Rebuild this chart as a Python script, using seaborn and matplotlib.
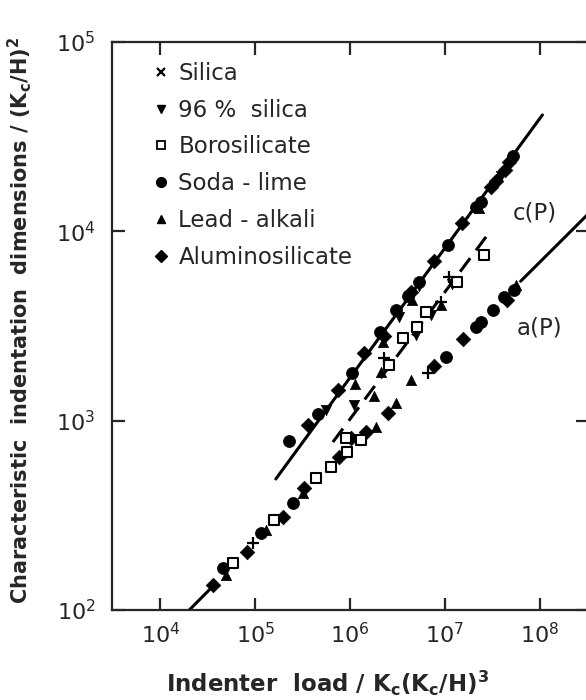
import seaborn as sns
import matplotlib.pyplot as plt
from matplotlib.lines import Line2D

sns.set_style("ticks")
plt.rcParams['font.family'] = 'DejaVu Sans'
plt.rcParams['mathtext.default'] = 'regular'

# Indentation data (load and size both normalised)
silica_x = [9.6e4, 2.3e6, 6.7e6, 9.2e6, 1.1e7]
silica_y = [226, 2140, 1790, 4240, 5740]

silica96_x = [5.6e5, 1.1e6, 3.3e6, 5.0e6, 5.3e6, 7.2e6, 1.2e7, 3.9e7]
silica96_y = [1140, 1210, 3530, 2840, 5150, 3610, 5270, 1.96e4]

boro_x = [5.9e4, 1.57e5, 4.4e5, 6.3e5, 9.1e5, 9.3e5, 1.31e6, 2.6e6, 3.6e6, 5.1e6, 6.4e6, 1.33e7, 2.6e7]
boro_y = [177, 299, 498, 569, 811, 684, 791, 1970, 2740, 3130, 3750, 5410, 7500]

soda_x = [2.26e5, 4.6e5, 1.05e6, 2.07e6, 3.07e6, 4.1e6, 5.4e6, 1.09e7, 2.15e7, 2.43e7, 5.3e7,
          4.6e4, 1.14e5, 2.5e5, 1.04e7, 2.15e7, 2.43e7, 3.26e7, 4.16e7, 5.4e7]
soda_y = [782, 1080, 1790, 2940, 3850, 4560, 5410, 8470, 1.35e4, 1.43e4, 2.5e4,
          167, 255, 367, 2170, 3130, 3320, 3850, 4500, 4900]

lead_x = [1.13e6, 2.23e6, 4.5e6, 2.32e7, 1.79e6, 2.13e6, 9.2e6,
          4.9e4, 1.29e5, 3.2e5, 1.88e6, 3.07e6, 4.4e6, 5.7e7]
lead_y = [1560, 2610, 4350, 1.33e4, 1350, 1810, 4080,
          153, 265, 415, 927, 1240, 1640, 5210]

alumino_x = [3.6e5, 7.5e5, 1.41e6, 2.29e6, 4.4e6, 7.7e6, 1.5e7, 3.1e7, 3.5e7, 4.3e7, 4.8e7,
             3.6e4, 8.1e4, 1.95e5, 3.3e5, 7.7e5, 1.03e6, 1.48e6, 2.5e6, 7.7e6, 1.57e7, 4.5e7]
alumino_y = [948, 1450, 2280, 2800, 4790, 6980, 1.11e4, 1.72e4, 1.85e4, 2.11e4, 2.33e4,
             135, 202, 310, 441, 643, 811, 871, 1100, 1945, 2700, 4350]

# fitted lines c(P) solid, c(P) dashed, a(P) (only drawn at both ends)
cP_x = [1.65e5, 1.07e8]
cP_y = [492, 4.12e4]
cP_dash_x = [6.6e5, 3.1e7]
cP_dash_y = [771, 1.02e4]
aP_low_x = [1.9e4, 3.5e4]
aP_low_y = [97, 132]
aP_high_x = [6.3e7, 4.0e8]
aP_high_y = [5450, 1.37e4]

fig = plt.figure(figsize=(5.86, 7.0), dpi=100)
ax = fig.add_axes([112 / 586, 90 / 700, 476 / 586, 568 / 700])

lk = dict(color='black', linewidth=2.2, estimator=None, sort=False, ax=ax)
sns.lineplot(x=cP_x, y=cP_y, **lk)
sns.lineplot(x=aP_low_x, y=aP_low_y, **lk)
sns.lineplot(x=aP_high_x, y=aP_high_y, **lk)
sns.lineplot(x=cP_dash_x, y=cP_dash_y, dashes=False, **lk)
ax.lines[-1].set_dashes((5.5, 3.2))

filled = dict(color='black', edgecolor='black', linewidth=0.5, ax=ax, zorder=3)
sns.scatterplot(x=soda_x, y=soda_y, marker='o', s=75, **filled)
sns.scatterplot(x=alumino_x, y=alumino_y, marker='D', s=55, **filled)
sns.scatterplot(x=lead_x, y=lead_y, marker='^', s=55, **filled)
sns.scatterplot(x=silica96_x, y=silica96_y, marker='v', s=55, **filled)
sns.scatterplot(x=boro_x, y=boro_y, marker='s', s=50, facecolor='white',
                edgecolor='black', linewidth=1.5, ax=ax, zorder=3)
sns.scatterplot(x=silica_x, y=silica_y, marker='+', s=80, color='black',
                linewidth=1.6, ax=ax, zorder=3)

ax.set_xscale('log')
ax.set_yscale('log')
ax.set_xlim(10 ** 3.49, 10 ** 8.51)
ax.set_ylim(1e2, 1e5)
ax.minorticks_off()
ax.set_xticks([1e4, 1e5, 1e6, 1e7, 1e8])
ax.set_yticks([1e2, 1e3, 1e4, 1e5])
ax.tick_params(which='both', direction='in', length=9, width=1.6,
               top=True, right=True, labelsize=16)
ax.tick_params(axis='x', pad=9)
ax.tick_params(axis='y', pad=12)
for sp in ax.spines.values():
    sp.set_linewidth(1.6)

ax.set_xlabel('Indenter  load / K$_c$(K$_c$/H)$^3$', fontsize=16.5, fontweight='bold')
ax.xaxis.label.set_va('baseline')
ax.xaxis.set_label_coords(0.452, -0.145)
ax.set_ylabel('Characteristic  indentation  dimensions / (K$_c$/H)$^2$',
              fontsize=15, fontweight='bold')
ax.yaxis.set_label_coords(-0.163, 0.51)

ax.text(9.0e7, 1.25e4, 'c(P)', fontsize=16.5, ha='center', va='center')
ax.text(1.0e8, 3090, 'a(P)', fontsize=16.5, ha='center', va='center')

handles = [
    Line2D([], [], ls='none', marker='x', color='black', markersize=6, mew=1.6),
    Line2D([], [], ls='none', marker='v', color='black', markersize=6),
    Line2D([], [], ls='none', marker='s', mfc='white', mec='black', markersize=6, mew=1.3),
    Line2D([], [], ls='none', marker='o', color='black', markersize=7),
    Line2D([], [], ls='none', marker='^', color='black', markersize=6),
    Line2D([], [], ls='none', marker='D', color='black', markersize=6),
]
labels = ['Silica', '96 %  silica', 'Borosilicate', 'Soda - lime', 'Lead - alkali', 'Aluminosilicate']
ax.legend(handles, labels, loc='upper left', bbox_to_anchor=(0.065, 0.981),
          frameon=False, fontsize=16.5, handlelength=0.8, handletextpad=0.35,
          labelspacing=0.6, borderaxespad=0)

fig.savefig('out.png', dpi=100, facecolor='white')
